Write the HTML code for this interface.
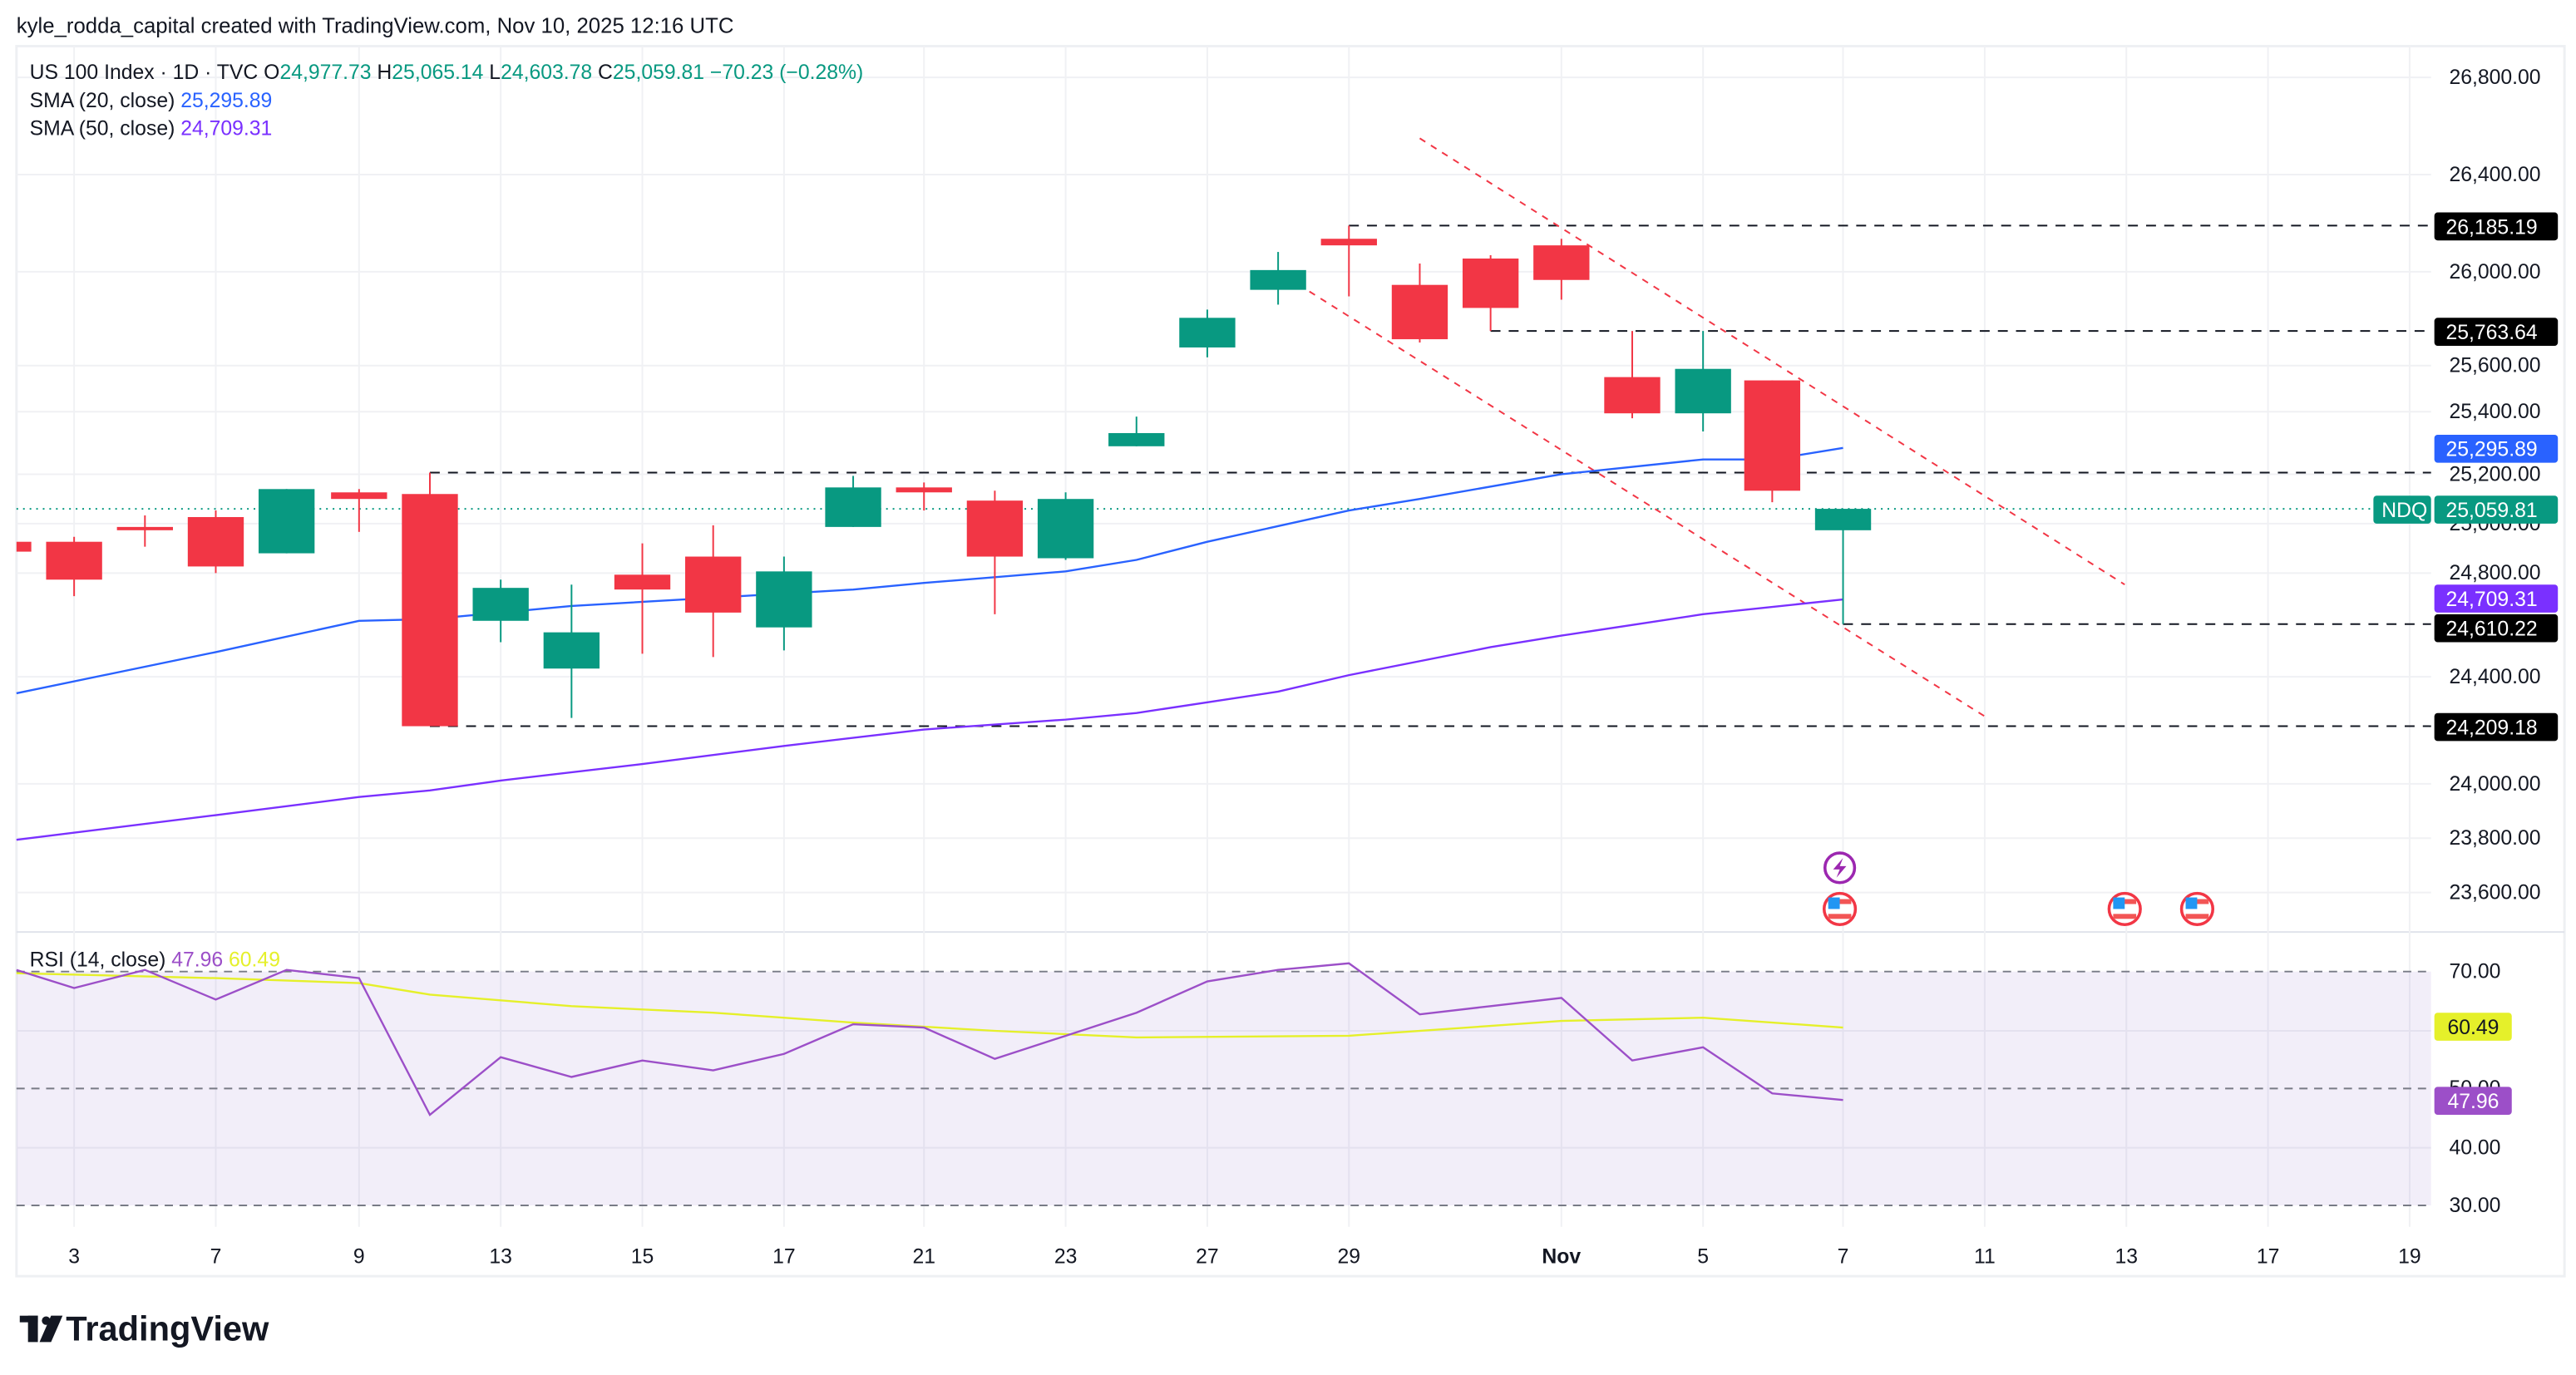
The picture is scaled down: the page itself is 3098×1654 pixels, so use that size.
<!DOCTYPE html>
<html><head><meta charset="utf-8"><style>
html,body{margin:0;padding:0;background:#fff;}
svg{display:block;}
text{font-family:"Liberation Sans",sans-serif;}
</style></head><body>
<svg width="3098" height="1654" viewBox="0 0 1564 835" xmlns="http://www.w3.org/2000/svg">
<rect width="1564" height="835" fill="#fff"/>
<text x="10" y="20" font-size="13" fill="#131722">kyle_rodda_capital created with TradingView.com, Nov 10, 2025 12:16 UTC</text>
<!-- pane frame -->
<rect x="10" y="28" width="1547" height="747" fill="none" stroke="#eef0f3" stroke-width="1.5"/>
<line x1="10" y1="566" x2="1557" y2="566" stroke="#e0e3eb" stroke-width="1"/>
<!-- vertical grid -->
<g stroke="#f0f1f4" stroke-width="1">
<line x1="45" y1="28" x2="45" y2="745"/><line x1="131" y1="28" x2="131" y2="745"/><line x1="218" y1="28" x2="218" y2="745"/><line x1="304" y1="28" x2="304" y2="745"/><line x1="390" y1="28" x2="390" y2="745"/><line x1="476" y1="28" x2="476" y2="745"/><line x1="561" y1="28" x2="561" y2="745"/><line x1="647" y1="28" x2="647" y2="745"/><line x1="733" y1="28" x2="733" y2="745"/><line x1="819" y1="28" x2="819" y2="745"/><line x1="948" y1="28" x2="948" y2="745"/><line x1="1034" y1="28" x2="1034" y2="745"/><line x1="1119" y1="28" x2="1119" y2="745"/><line x1="1205" y1="28" x2="1205" y2="745"/><line x1="1291" y1="28" x2="1291" y2="745"/><line x1="1377" y1="28" x2="1377" y2="745"/><line x1="1463" y1="28" x2="1463" y2="745"/>
<line x1="10" y1="47" x2="1476" y2="47"/><line x1="10" y1="106" x2="1476" y2="106"/><line x1="10" y1="165" x2="1476" y2="165"/><line x1="10" y1="222" x2="1476" y2="222"/><line x1="10" y1="250" x2="1476" y2="250"/><line x1="10" y1="288" x2="1476" y2="288"/><line x1="10" y1="318" x2="1476" y2="318"/><line x1="10" y1="348" x2="1476" y2="348"/><line x1="10" y1="411" x2="1476" y2="411"/><line x1="10" y1="476" x2="1476" y2="476"/><line x1="10" y1="509" x2="1476" y2="509"/><line x1="10" y1="542" x2="1476" y2="542"/>
<line x1="10" y1="626" x2="1476" y2="626"/><line x1="10" y1="697" x2="1476" y2="697"/>
</g>
<rect x="10" y="590" width="1466" height="142" fill="#7e57c2" fill-opacity="0.1"/>
<g stroke="#787b86" stroke-width="1" stroke-dasharray="5,4">
<line x1="10" y1="590" x2="1476" y2="590"/><line x1="10" y1="661" x2="1476" y2="661"/><line x1="10" y1="732" x2="1476" y2="732"/>
</g>
<g stroke="#131722" stroke-width="1" stroke-dasharray="6,5">
<line x1="819" y1="137" x2="1476" y2="137"/><line x1="905" y1="201" x2="1476" y2="201"/><line x1="261" y1="287" x2="1476" y2="287"/><line x1="1119" y1="379" x2="1476" y2="379"/><line x1="261" y1="441" x2="1476" y2="441"/>
</g>
<line x1="10" y1="309" x2="1442" y2="309" stroke="#089981" stroke-width="1" stroke-dasharray="1,3"/>
<g stroke="#f23645" stroke-width="1" stroke-dasharray="4,4">
<line x1="862" y1="84" x2="1290" y2="355"/><line x1="795" y1="177" x2="1205" y2="435"/>
</g>
<polyline fill="none" stroke="#2962ff" stroke-width="1.2" points="10,421 131,396 218,377 261,376 347,368 433,363 518,358 561,354 647,347 690,340 733,329 819,310 862,303 948,288 1034,279 1076,279 1119,272"/>
<polyline fill="none" stroke="#7a30ff" stroke-width="1.2" points="10,510 131,495 218,484 261,480 304,474 390,464 476,453 561,443 647,437 690,433 776,420 819,410 905,393 948,386 1034,373 1119,364"/>
<svg x="10" y="28" width="1466" height="538" viewBox="10 28 1466 538" overflow="hidden">
<g stroke-width="1">
<g fill="#f23645" stroke="#f23645">
<line x1="2" y1="326" x2="2" y2="340"/><rect x="-15" y="329" width="34" height="6" stroke="none"/>
<line x1="45" y1="326" x2="45" y2="362"/><rect x="28" y="329" width="34" height="23" stroke="none"/>
<line x1="88" y1="313" x2="88" y2="332"/><rect x="71" y="320" width="34" height="2" stroke="none"/>
<line x1="131" y1="310" x2="131" y2="348"/><rect x="114" y="314" width="34" height="30" stroke="none"/>
<line x1="218" y1="297" x2="218" y2="323"/><rect x="201" y="299" width="34" height="4" stroke="none"/>
<line x1="261" y1="287" x2="261" y2="441"/><rect x="244" y="300" width="34" height="141" stroke="none"/>
<line x1="390" y1="330" x2="390" y2="397"/><rect x="373" y="349" width="34" height="9" stroke="none"/>
<line x1="433" y1="319" x2="433" y2="399"/><rect x="416" y="338" width="34" height="34" stroke="none"/>
<line x1="561" y1="293" x2="561" y2="310"/><rect x="544" y="296" width="34" height="3" stroke="none"/>
<line x1="604" y1="298" x2="604" y2="373"/><rect x="587" y="304" width="34" height="34" stroke="none"/>
<line x1="819" y1="137" x2="819" y2="180"/><rect x="802" y="145" width="34" height="4" stroke="none"/>
<line x1="862" y1="160" x2="862" y2="208"/><rect x="845" y="173" width="34" height="33" stroke="none"/>
<line x1="905" y1="155" x2="905" y2="201"/><rect x="888" y="157" width="34" height="30" stroke="none"/>
<line x1="948" y1="145" x2="948" y2="182"/><rect x="931" y="149" width="34" height="21" stroke="none"/>
<line x1="991" y1="201" x2="991" y2="254"/><rect x="974" y="229" width="34" height="22" stroke="none"/>
<line x1="1076" y1="231" x2="1076" y2="305"/><rect x="1059" y="231" width="34" height="67" stroke="none"/>
</g>
<g fill="#089981" stroke="#089981">
<line x1="174" y1="297" x2="174" y2="336"/><rect x="157" y="297" width="34" height="39" stroke="none"/>
<line x1="304" y1="352" x2="304" y2="390"/><rect x="287" y="357" width="34" height="20" stroke="none"/>
<line x1="347" y1="355" x2="347" y2="436"/><rect x="330" y="384" width="34" height="22" stroke="none"/>
<line x1="476" y1="338" x2="476" y2="395"/><rect x="459" y="347" width="34" height="34" stroke="none"/>
<line x1="518" y1="289" x2="518" y2="320"/><rect x="501" y="296" width="34" height="24" stroke="none"/>
<line x1="647" y1="299" x2="647" y2="340"/><rect x="630" y="303" width="34" height="36" stroke="none"/>
<line x1="690" y1="253" x2="690" y2="271"/><rect x="673" y="263" width="34" height="8" stroke="none"/>
<line x1="733" y1="188" x2="733" y2="217"/><rect x="716" y="193" width="34" height="18" stroke="none"/>
<line x1="776" y1="153" x2="776" y2="185"/><rect x="759" y="164" width="34" height="12" stroke="none"/>
<line x1="1034" y1="201" x2="1034" y2="262"/><rect x="1017" y="224" width="34" height="27" stroke="none"/>
<line x1="1119" y1="309" x2="1119" y2="379"/><rect x="1102" y="309" width="34" height="13" stroke="none"/>
</g>
</g>
</svg>
<!-- events -->
<circle cx="1117" cy="527" r="9" fill="#fff" stroke="#9c27b0" stroke-width="1.8"/>
<polygon points="1119,521 1113,528 1117,528 1115,533 1121,526 1117,526" fill="#9c27b0"/>
<g>
<circle cx="1117" cy="552" r="9.5" fill="#fff" stroke="#f23645" stroke-width="1.8"/>
<circle cx="1290" cy="552" r="9.5" fill="#fff" stroke="#f23645" stroke-width="1.8"/>
<circle cx="1334" cy="552" r="9.5" fill="#fff" stroke="#f23645" stroke-width="1.8"/>
</g>
<g fill="#f25555"><rect x="1110" y="546" width="14" height="3"/><rect x="1110" y="555" width="14" height="3"/><rect x="1283" y="546" width="14" height="3"/><rect x="1283" y="555" width="14" height="3"/><rect x="1327" y="546" width="14" height="3"/><rect x="1327" y="555" width="14" height="3"/></g>
<g fill="#2196f3"><rect x="1110" y="545" width="7" height="7"/><rect x="1283" y="545" width="7" height="7"/><rect x="1327" y="545" width="7" height="7"/></g>
<polyline fill="none" stroke="#e5f02a" stroke-width="1.2" points="10,591 131,594 218,597 261,604 347,611 433,615 518,621 604,626 690,630 819,629 905,623 948,620 1034,618 1119,624"/>
<polyline fill="none" stroke="#9c4fc8" stroke-width="1.2" points="10,589 45,600 88,589 131,607 174,589 218,594 261,677 304,642 347,654 390,644 433,650 476,640 518,622 561,624 604,643 647,629 690,615 733,596 776,589 819,585 862,616 905,611 948,606 991,644 1034,636 1076,664 1119,668"/>
<text x="18" y="48" font-size="12.5" fill="#131722">US 100 Index · 1D · TVC  O<tspan fill="#089981">24,977.73</tspan>  H<tspan fill="#089981">25,065.14</tspan>  L<tspan fill="#089981">24,603.78</tspan>  C<tspan fill="#089981">25,059.81  −70.23 (−0.28%)</tspan></text>
<text x="18" y="65" font-size="12.5" fill="#131722">SMA (20, close)  <tspan fill="#2962ff">25,295.89</tspan></text>
<text x="18" y="82" font-size="12.5" fill="#131722">SMA (50, close)  <tspan fill="#7a30ff">24,709.31</tspan></text>
<text x="18" y="587" font-size="12.5" fill="#131722">RSI (14, close)  <tspan fill="#9c4fc8">47.96</tspan>  <tspan fill="#e5f02a">60.49</tspan></text>
<g font-size="12.5" fill="#131722">
<text x="1487" y="51">26,800.00</text><text x="1487" y="110">26,400.00</text><text x="1487" y="169">26,000.00</text><text x="1487" y="226">25,600.00</text><text x="1487" y="254">25,400.00</text><text x="1487" y="292">25,200.00</text><text x="1487" y="322">25,000.00</text><text x="1487" y="352">24,800.00</text><text x="1487" y="415">24,400.00</text><text x="1487" y="480">24,000.00</text><text x="1487" y="513">23,800.00</text><text x="1487" y="546">23,600.00</text>
<text x="1487" y="594">70.00</text><text x="1487" y="665">50.00</text><text x="1487" y="701">40.00</text><text x="1487" y="736">30.00</text>
</g>
<g font-size="12.5" fill="#fff">
<rect x="1478" y="129" width="75" height="17" rx="2" fill="#000"/><text x="1485" y="142">26,185.19</text>
<rect x="1478" y="193" width="75" height="17" rx="2" fill="#000"/><text x="1485" y="206">25,763.64</text>
<rect x="1478" y="264" width="75" height="17" rx="2" fill="#2962ff"/><text x="1485" y="277">25,295.89</text>
<rect x="1478" y="301" width="75" height="17" rx="2" fill="#089981"/><text x="1485" y="314">25,059.81</text>
<rect x="1441" y="301" width="35" height="17" rx="2" fill="#089981"/><text x="1446" y="314">NDQ</text>
<rect x="1478" y="355" width="75" height="17" rx="2" fill="#7a30ff"/><text x="1485" y="368">24,709.31</text>
<rect x="1478" y="373" width="75" height="17" rx="2" fill="#000"/><text x="1485" y="386">24,610.22</text>
<rect x="1478" y="433" width="75" height="17" rx="2" fill="#000"/><text x="1485" y="446">24,209.18</text>
<rect x="1478" y="615" width="47" height="17" rx="2" fill="#e5f02a"/><text x="1486" y="628" fill="#131722">60.49</text>
<rect x="1478" y="660" width="47" height="17" rx="2" fill="#9c4fc8"/><text x="1486" y="673">47.96</text>
</g>
<g font-size="12.5" fill="#131722" text-anchor="middle">
<text x="45" y="767">3</text><text x="131" y="767">7</text><text x="218" y="767">9</text><text x="304" y="767">13</text><text x="390" y="767">15</text><text x="476" y="767">17</text><text x="561" y="767">21</text><text x="647" y="767">23</text><text x="733" y="767">27</text><text x="819" y="767">29</text><text x="948" y="767" font-weight="bold">Nov</text><text x="1034" y="767">5</text><text x="1119" y="767">7</text><text x="1205" y="767">11</text><text x="1291" y="767">13</text><text x="1377" y="767">17</text><text x="1463" y="767">19</text>
</g>
<g fill="#131722">
<rect x="12" y="799" width="11" height="4"/><rect x="17" y="799" width="6" height="16"/>
<circle cx="28" cy="802" r="2.6"/><polygon points="31,799 38,799 31,815 24,815"/>
</g>
<text x="40" y="814" font-size="21" font-weight="bold" fill="#131722">TradingView</text>
</svg>
</body></html>
